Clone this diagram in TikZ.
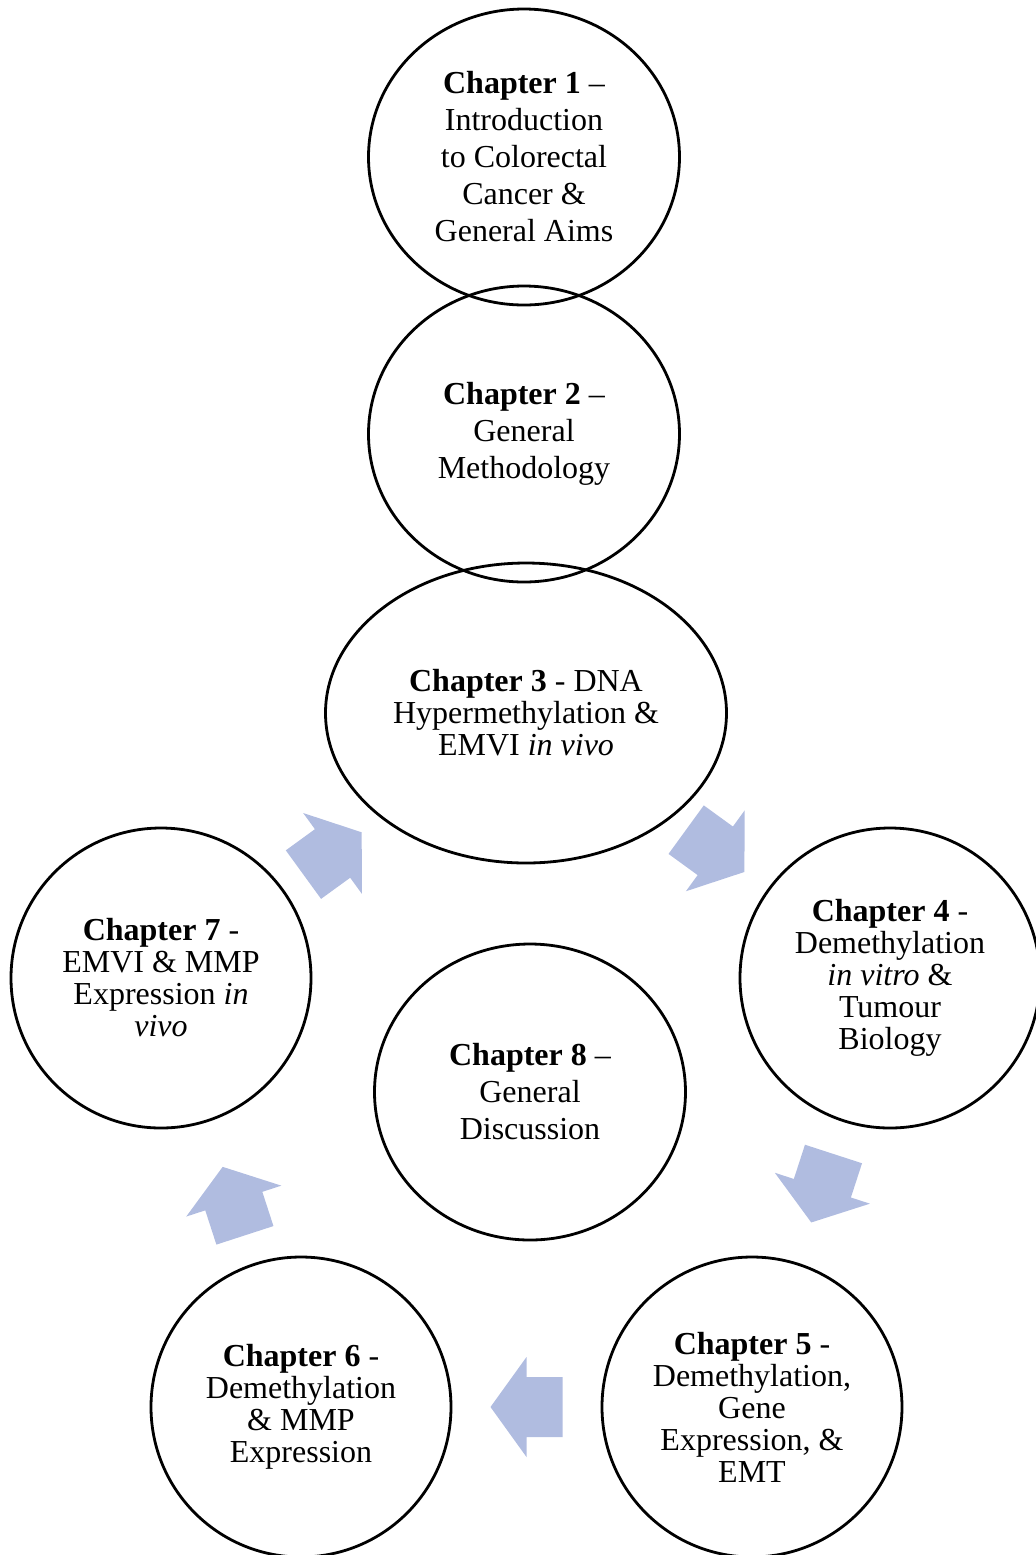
\documentclass[tikz,border=0pt]{standalone}
\usepackage{fontspec}
\setmainfont{Liberation Serif}
\usetikzlibrary{shapes.geometric,calc}
\definecolor{arrowblue}{RGB}{176,188,224}

% block arrow between two chapters: from, to, fraction, angle
\newcommand{\cyclearrow}[4]{%
  \fill[cycle arrow, shift={($(#1)!#3!(#2)$)}, rotate=#4]
    (-18pt,-15pt) -- (0pt,-15pt) -- (0pt,-25pt) -- (18pt,0pt)
    -- (0pt,25pt) -- (0pt,15pt) -- (-18pt,15pt) -- cycle;}

\begin{document}
\begin{tikzpicture}[x=0.5pt,y=-0.5pt]
       \tikzstyle{chapter}=[draw, ellipse, line width=1.4pt, inner sep=0pt, align=center,
                            font=\fontsize{16}{16}\selectfont]
       \tikzstyle{wide chapter}=[chapter, font=\fontsize{16}{18.5}\selectfont]
       \tikzstyle{cycle arrow}=[fill=arrowblue]

       \useasboundingbox (0,0) rectangle (1036,1555);

       \node[wide chapter, minimum width=155.5pt, minimum height=148pt] (ch1) at (524,157)
            {\textbf{Chapter 1} –\\Introduction\\to Colorectal\\Cancer \&\\General Aims};
       \node[wide chapter, minimum width=155.5pt, minimum height=148pt] (ch2) at (524,434)
            {\textbf{Chapter 2} –\\General\\Methodology};
       \node[chapter, minimum width=200.5pt, minimum height=150pt] (ch3) at (526,713)
            {\textbf{Chapter 3} - DNA\\Hypermethylation \&\\EMVI \textit{in vivo}};
       \node[chapter, minimum width=150pt, minimum height=150pt] (ch4) at (890,978)
            {\textbf{Chapter 4} -\\Demethylation\\\textit{in vitro} \&\\Tumour\\Biology};
       \node[chapter, minimum width=150pt, minimum height=150pt] (ch5) at (752,1407)
            {\textbf{Chapter 5} -\\Demethylation,\\Gene\\Expression, \&\\EMT};
       \node[chapter, minimum width=150pt, minimum height=150pt] (ch6) at (301,1407)
            {\textbf{Chapter 6} -\\Demethylation\\\& MMP\\Expression};
       \node[chapter, minimum width=150pt, minimum height=150pt] (ch7) at (161,978)
            {\textbf{Chapter 7} -\\EMVI \& MMP\\Expression \textit{in}\\\textit{vivo}};
       \node[wide chapter, minimum width=155.5pt, minimum height=148pt] (ch8) at (530,1092)
            {\textbf{Chapter 8} –\\General\\Discussion};

       \cyclearrow{ch3}{ch4}{0.52}{-36}
       \cyclearrow{ch4}{ch5}{0.49}{-108}
       \cyclearrow{ch5}{ch6}{0.5}{180}
       \cyclearrow{ch6}{ch7}{0.48}{108}
       \cyclearrow{ch7}{ch3}{0.47}{36}
     \end{tikzpicture}
\end{document}
